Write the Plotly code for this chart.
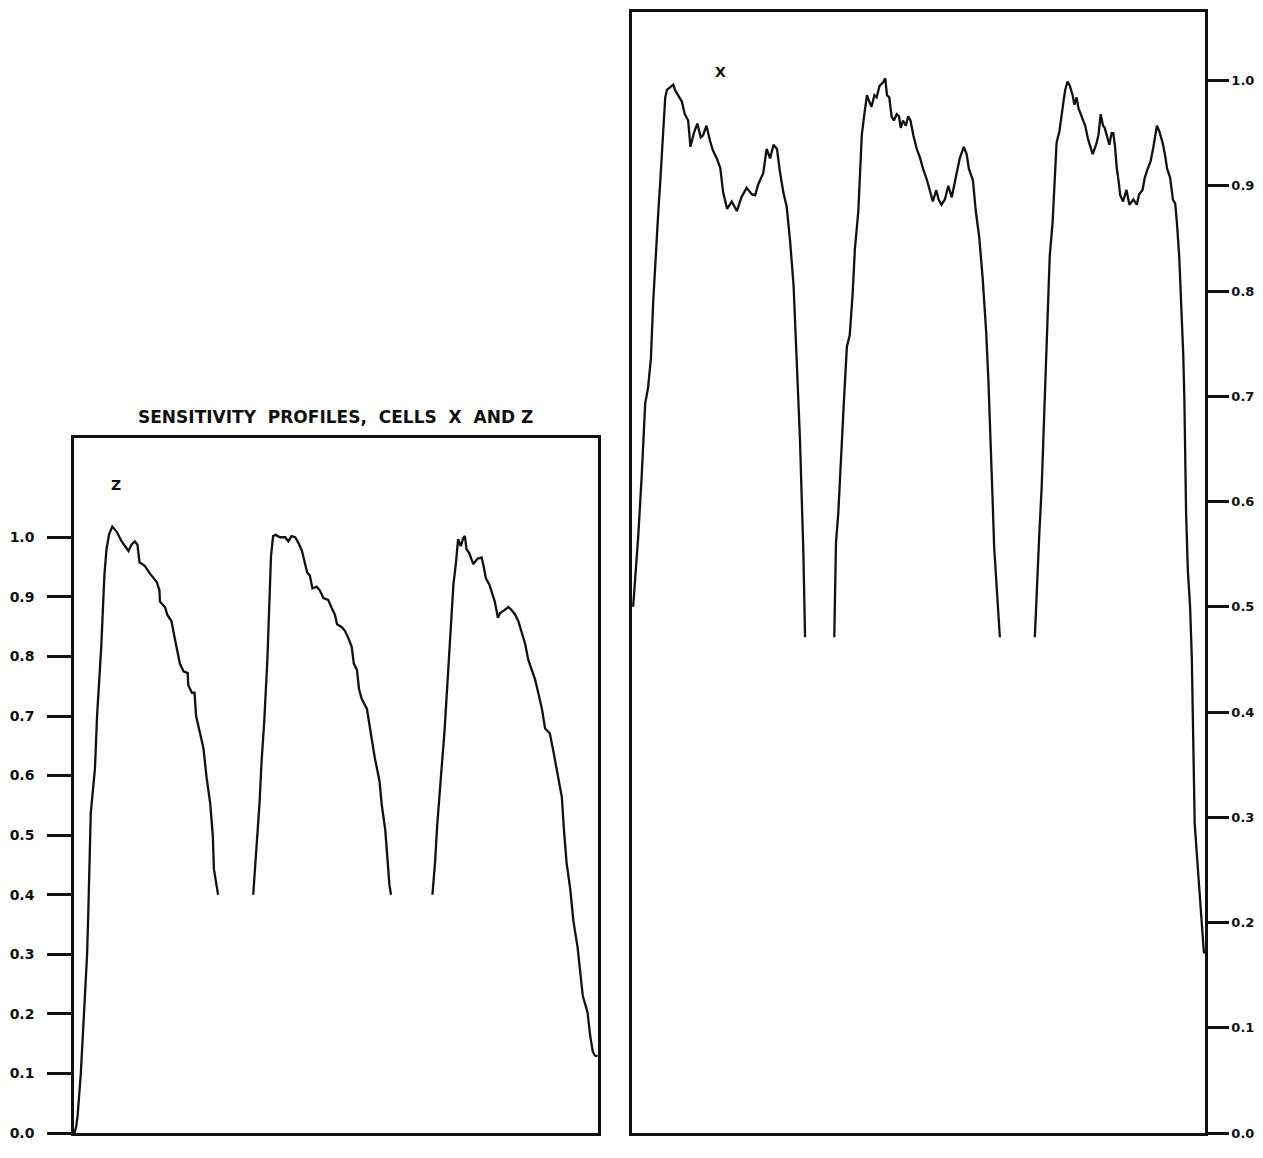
import plotly.graph_objects as go

# ---------------- data (scan position 0-100 across each panel, relative sensitivity) -------------
z_seg1_pos = [0.1, 0.4, 0.7, 1.3, 1.9, 2.5, 2.7, 3.2, 4.0, 4.4, 5.2, 5.8, 6.2, 6.7, 7.3, 8.1, 9.1, 10.4,
              11.0, 11.6, 12.1, 12.5, 13.5, 14.5, 15.8, 16.3, 16.4, 17.4, 17.8, 18.6, 19.3, 20.2, 20.9,
              21.7, 21.8, 22.5, 23.0, 23.3, 24.0, 24.7, 25.3, 26.0, 26.5, 26.7, 27.5]
z_seg1_val = [0.0, 0.01, 0.03, 0.10, 0.20, 0.30, 0.361, 0.537, 0.612, 0.70, 0.816, 0.936, 0.98, 1.005,
              1.018, 1.01, 0.993, 0.977, 0.988, 0.993, 0.988, 0.958, 0.952, 0.939, 0.925, 0.911, 0.892,
              0.882, 0.870, 0.859, 0.827, 0.788, 0.775, 0.772, 0.752, 0.739, 0.739, 0.70, 0.673, 0.646,
              0.597, 0.553, 0.498, 0.443, 0.40]

z_seg2_pos = [34.2, 34.9, 35.4, 35.8, 36.3, 36.9, 37.3, 37.6, 38.0, 38.5, 39.3, 40.3, 40.9, 41.5, 42.2,
              42.8, 43.5, 44.1, 44.5, 45.0, 45.5, 46.3, 46.9, 47.6, 48.5, 49.2, 49.8, 50.2, 51.1, 51.7,
              52.3, 53.0, 53.4, 54.0, 54.4, 54.9, 55.9, 56.5, 57.4, 58.3, 58.7, 59.4, 59.8, 60.2, 60.5]
z_seg2_val = [0.40, 0.482, 0.553, 0.624, 0.690, 0.794, 0.909, 0.969, 1.002, 1.004, 1.0, 1.0, 0.993,
              1.002, 1.0, 0.991, 0.977, 0.952, 0.941, 0.936, 0.914, 0.917, 0.911, 0.898, 0.895, 0.881,
              0.870, 0.854, 0.849, 0.843, 0.832, 0.816, 0.788, 0.777, 0.745, 0.729, 0.712, 0.679, 0.630,
              0.591, 0.553, 0.509, 0.454, 0.416, 0.40]

z_seg3_pos = [68.4, 68.9, 69.3, 69.7, 70.2, 70.7, 71.1, 71.4, 71.9, 72.4, 72.9, 73.3, 73.8, 74.3, 74.6,
              74.9, 75.4, 76.2, 77.0, 77.8, 78.2, 78.6, 79.3, 79.9, 80.3, 80.9, 81.3, 81.9, 82.9, 83.5,
              84.2, 84.8, 85.4, 86.1, 86.7, 87.3, 88.0, 88.6, 89.3, 89.9, 90.8, 91.5, 92.1, 92.6, 93.1,
              93.5, 94.0, 94.7, 95.3, 96.1, 96.6, 97.1, 98.0, 98.5, 99.0, 99.4, 99.9]
z_seg3_val = [0.40, 0.454, 0.515, 0.569, 0.618, 0.673, 0.728, 0.788, 0.854, 0.920, 0.958, 0.997, 0.985,
              0.999, 1.002, 0.980, 0.974, 0.955, 0.964, 0.966, 0.950, 0.931, 0.920, 0.903, 0.892, 0.865,
              0.873, 0.876, 0.883, 0.878, 0.870, 0.859, 0.843, 0.821, 0.794, 0.777, 0.761, 0.739, 0.712,
              0.679, 0.671, 0.640, 0.613, 0.586, 0.564, 0.509, 0.454, 0.410, 0.356, 0.312, 0.274, 0.230,
              0.203, 0.164, 0.137, 0.130, 0.129]

x_seg1_pos = [0.2, 0.3, 1.1, 1.7, 2.3, 2.8, 3.3, 3.7, 4.1, 4.6, 4.9, 5.4, 5.8, 6.1, 6.6, 7.2, 7.5, 8.1,
              8.7, 9.2, 9.8, 10.2, 10.8, 11.4, 12.0, 12.4, 13.0, 13.6, 14.1, 14.8, 15.4, 15.9, 16.6,
              17.4, 18.3, 19.1, 20.0, 20.9, 21.5, 22.0, 22.9, 23.5, 24.1, 24.7, 25.3, 25.8, 26.4, 27.0,
              27.6, 28.2, 28.6, 29.0, 29.3, 29.6, 29.9, 30.2]
x_seg1_val = [0.50, 0.507, 0.568, 0.625, 0.693, 0.708, 0.736, 0.790, 0.833, 0.876, 0.901, 0.948, 0.984,
              0.991, 0.993, 0.996, 0.991, 0.986, 0.980, 0.968, 0.962, 0.937, 0.950, 0.959, 0.946, 0.948,
              0.957, 0.943, 0.934, 0.926, 0.917, 0.894, 0.878, 0.885, 0.876, 0.889, 0.898, 0.892, 0.891,
              0.901, 0.912, 0.935, 0.926, 0.939, 0.935, 0.914, 0.894, 0.880, 0.847, 0.805, 0.758, 0.704,
              0.661, 0.607, 0.553, 0.471]

x_seg2_pos = [35.3, 35.6, 36.0, 36.6, 37.0, 37.5, 38.0, 38.5, 38.9, 39.5, 39.8, 40.1, 40.5, 41.0, 41.4,
              41.8, 42.3, 42.7, 43.2, 43.8, 44.2, 44.5, 44.9, 45.3, 45.7, 46.2, 46.6, 46.9, 47.3, 47.8,
              48.2, 48.6, 49.1, 49.7, 50.3, 50.8, 51.5, 52.1, 52.5, 53.1, 53.5, 54.0, 54.6, 55.2, 55.8,
              56.4, 56.8, 57.2, 57.9, 58.4, 58.8, 59.5, 60.0, 60.6, 61.2, 61.8, 62.2, 62.6, 62.9, 63.2,
              63.6, 64.2]
x_seg2_val = [0.471, 0.561, 0.589, 0.661, 0.697, 0.747, 0.758, 0.797, 0.840, 0.876, 0.916, 0.948, 0.966,
              0.986, 0.980, 0.975, 0.986, 0.984, 0.995, 0.998, 1.002, 0.986, 0.984, 0.966, 0.962, 0.968,
              0.966, 0.955, 0.962, 0.957, 0.966, 0.962, 0.948, 0.935, 0.926, 0.916, 0.905, 0.894, 0.885,
              0.896, 0.887, 0.882, 0.887, 0.900, 0.889, 0.905, 0.914, 0.926, 0.937, 0.930, 0.916, 0.905,
              0.876, 0.851, 0.812, 0.762, 0.715, 0.661, 0.607, 0.557, 0.525, 0.471]

x_seg3_pos = [70.3, 70.7, 71.1, 71.5, 71.8, 72.1, 72.4, 72.7, 72.9, 73.4, 73.8, 74.1, 74.6, 75.0, 75.3,
              75.6, 76.0, 76.4, 76.9, 77.2, 77.6, 77.9, 78.5, 79.1, 79.6, 80.2, 80.4, 81.0, 81.4, 81.8,
              82.2, 82.5, 82.9, 83.3, 83.7, 84.0, 84.3, 84.6, 85.0, 85.2, 85.7, 86.3, 86.8, 87.5, 88.1,
              88.5, 89.1, 89.5, 90.0, 90.5, 91.0, 91.6, 92.0, 92.6, 93.0, 93.4, 93.9, 94.4, 94.8, 95.1,
              95.5, 95.9, 96.2, 96.4, 96.5, 96.7, 97.0, 97.4, 97.7, 97.9, 98.0, 98.2, 98.6, 99.1, 99.5,
              99.8, 100.0]
x_seg3_val = [0.471, 0.525, 0.571, 0.614, 0.661, 0.704, 0.747, 0.797, 0.833, 0.865, 0.912, 0.941, 0.952,
              0.970, 0.980, 0.991, 0.999, 0.995, 0.986, 0.977, 0.984, 0.974, 0.966, 0.957, 0.944, 0.935,
              0.930, 0.939, 0.948, 0.968, 0.957, 0.955, 0.948, 0.939, 0.950, 0.950, 0.937, 0.917, 0.901,
              0.891, 0.885, 0.896, 0.882, 0.887, 0.882, 0.892, 0.896, 0.908, 0.916, 0.923, 0.937, 0.957,
              0.952, 0.941, 0.930, 0.916, 0.908, 0.887, 0.883, 0.865, 0.833, 0.787, 0.740, 0.697, 0.643,
              0.589, 0.535, 0.500, 0.451, 0.388, 0.341, 0.294, 0.263, 0.225, 0.188, 0.172, 0.171]

tick_vals = [0.0, 0.1, 0.2, 0.3, 0.4, 0.5, 0.6, 0.7, 0.8, 0.9, 1.0]
tick_text = ["0.0", "0.1", "0.2", "0.3", "0.4", "0.5", "0.6", "0.7", "0.8", "0.9", "1.0"]

title_text = "SENSITIVITY  PROFILES,  CELLS  X  AND Z"

# ---------------- figure ----------------
# The page body has an 8 px margin on every side; size the figure so the whole
# page is exactly the window size, and measure layout positions from that offset.
OFF = 8
W, H = 1263 - OFF, 1158 - 2 * OFF
INK = "#111111"
FONT = dict(family="DejaVu Sans, Arial", size=14, color=INK, weight="bold")
RFONT = dict(family="DejaVu Sans, Arial", size=13, color=INK, weight="bold")
TITLE_FONT = dict(family="DejaVu Sans, Arial", size=17, color=INK, weight="bold")


def px_x(p):
    return (p - OFF) / W


def px_y(p):
    return 1 - (p - OFF) / H


fig = go.Figure()


def seg(xs, ys, xa, ya):
    fig.add_trace(go.Scatter(x=xs, y=ys, mode="lines", xaxis=xa, yaxis=ya,
                             line=dict(color=INK, width=2.3), showlegend=False, hoverinfo="skip"))


seg(z_seg1_pos, z_seg1_val, "x", "y")
seg(z_seg2_pos, z_seg2_val, "x", "y")
seg(z_seg3_pos, z_seg3_val, "x", "y")
seg(x_seg1_pos, x_seg1_val, "x2", "y2")
seg(x_seg2_pos, x_seg2_val, "x2", "y2")
seg(x_seg3_pos, x_seg3_val, "x2", "y2")

BOTTOM = 1141
left_dom_x = [px_x(74), px_x(598)]
left_dom_y = [px_y(BOTTOM), px_y(441)]
right_dom_x = [px_x(632), px_x(1205)]
right_dom_y = [px_y(BOTTOM), px_y(12)]
left_top = (BOTTOM - 441) / (BOTTOM - 541)
right_top = (BOTTOM - 12) / (BOTTOM - 81)

axis_common = dict(showline=True, linecolor=INK, linewidth=2.5, mirror=True,
                   showgrid=False, zeroline=False)

fig.update_layout(
    width=W, height=H,
    margin=dict(l=0, r=0, t=0, b=0),
    paper_bgcolor="white", plot_bgcolor="white",
    font=FONT,
    xaxis=dict(domain=left_dom_x, range=[0, 100], showticklabels=False, ticks="", **axis_common),
    yaxis=dict(domain=left_dom_y, range=[0, left_top], tickvals=tick_vals, ticktext=tick_text,
               ticks="outside", ticklen=24, tickwidth=2.5, tickcolor=INK, ticklabelstandoff=10,
               ticklabeloverflow="allow", tickfont=FONT, **axis_common),
    xaxis2=dict(domain=right_dom_x, range=[0, 100], showticklabels=False, ticks="",
                anchor="y2", **axis_common),
    yaxis2=dict(domain=right_dom_y, range=[0, right_top], tickvals=tick_vals, ticktext=tick_text,
                side="right", anchor="x2", ticks="outside", ticklen=21, tickwidth=2.5,
                tickcolor=INK, ticklabelstandoff=0, ticklabeloverflow="allow",
                tickfont=RFONT, **axis_common),
    annotations=[
        dict(text=title_text, xref="paper", yref="paper", x=px_x(335), y=px_y(420),
             showarrow=False, xanchor="center", yanchor="middle", font=TITLE_FONT),
        dict(text="Z", xref="x", yref="y", x=8.0, y=1.087, showarrow=False, font=FONT),
        dict(text="X", xref="x2", yref="y2", x=15.4, y=1.008, showarrow=False, font=FONT),
    ],
)

fig.write_html("out.html", config={"displayModeBar": False})
